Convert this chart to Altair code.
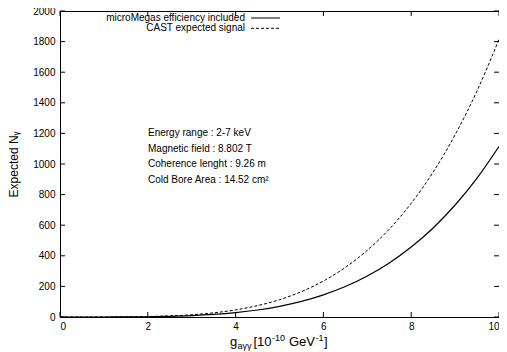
import altair as alt
import pandas as pd

g_vals = [0, 0.5, 1, 1.5, 2, 2.5, 3, 3.5, 4, 4.5, 5, 5.5, 6, 6.5, 7, 7.5, 8, 8.5, 9, 9.5, 10]
mm_vals = [0, 0.01, 0.11, 0.56, 1.8, 4.4, 9.0, 16.7, 28.5, 45.7, 69.7, 102, 145, 199, 268, 353, 457, 582, 732, 908, 1115]
cast_vals = [0, 0.01, 0.18, 0.92, 2.9, 7.1, 14.7, 27.2, 46.5, 74.4, 113, 166, 235, 324, 436, 574, 743, 947, 1191, 1478, 1815]

x_ticks = [0, 2, 4, 6, 8, 10]
y_ticks = [0, 200, 400, 600, 800, 1000, 1200, 1400, 1600, 1800, 2000]

legend_labels = ["microMegas efficiency included", "CAST expected signal"]
notes = ["Energy range : 2-7 keV", "Magnetic field : 8.802 T",
         "Coherence lenght : 9.26 m", "Cold Bore Area : 14.52 cm²"]
# x-axis title pieces: (text, role) role: main / sub / sup
xtitle_parts = [("g", "main"), ("aγγ", "sub"), ("[10", "main"), ("-10", "sup"),
                ("GeV", "main"), ("-1", "sup"), ("]", "main")]
xtitle_x = [170, 177.5, 193.5, 212, 229, 255.5, 264]

W, H = 439, 306
FONT = "Liberation Sans"

df = pd.DataFrame({"g": g_vals * 2,
                   "n": mm_vals + cast_vals,
                   "s": [legend_labels[0]] * len(g_vals) + [legend_labels[1]] * len(g_vals)})

xs = alt.Scale(domain=[0, 10], nice=False)
ys = alt.Scale(domain=[0, 2000], nice=False)

axX = alt.Axis(values=x_ticks, title="",
               grid=False, ticks=False, domain=False, labelFont=FONT, labelFontSize=10,
               labelColor="black", labelPadding=4, labelOverlap=False)
axY = alt.Axis(values=y_ticks, format="d", title="Expected Nᵧ",
               grid=False, ticks=False, domain=False, labelFont=FONT, labelFontSize=10,
               labelColor="black", labelPadding=5, labelOverlap=False, titleFont=FONT,
               titleFontSize=12, titleFontWeight="normal", titleColor="black", titlePadding=12)

base = alt.Chart(df)
solid = base.transform_filter(alt.datum.s == legend_labels[0]).mark_line(
    color="black", strokeWidth=1.2, interpolate="monotone").encode(
    x=alt.X("g:Q", scale=xs, axis=axX), y=alt.Y("n:Q", scale=ys, axis=axY))
dashed = base.transform_filter(alt.datum.s == legend_labels[1]).mark_line(
    color="black", strokeWidth=1, strokeDash=[3, 2], interpolate="monotone").encode(
    x=alt.X("g:Q", scale=xs, axis=axX), y=alt.Y("n:Q", scale=ys, axis=axY))

xt = pd.DataFrame({"g": x_ticks})
yt = pd.DataFrame({"n": y_ticks})
tick_style = dict(color="black", strokeWidth=1)
xb = alt.Chart(xt).mark_rule(**tick_style).encode(
    x=alt.X("g:Q", scale=xs, axis=axX), y=alt.value(H), y2=alt.value(H - 5))
xtop = alt.Chart(xt).mark_rule(**tick_style).encode(
    x=alt.X("g:Q", scale=xs, axis=axX), y=alt.value(0), y2=alt.value(5))
yl = alt.Chart(yt).mark_rule(**tick_style).encode(
    y=alt.Y("n:Q", scale=ys, axis=axY), x=alt.value(0), x2=alt.value(5))
yr = alt.Chart(yt).mark_rule(**tick_style).encode(
    y=alt.Y("n:Q", scale=ys, axis=axY), x=alt.value(W), x2=alt.value(W - 5))

layers = [solid, dashed, xb, xtop, yl, yr]

leg_y = [7, 17.3]
for i, lab in enumerate(legend_labels):
    ldf = pd.DataFrame({"label": [lab]})
    layers.append(alt.Chart(ldf).mark_text(align="right", baseline="middle", font=FONT,
                                           fontSize=10, color="black").encode(
        text="label:N", x=alt.value(185), y=alt.value(leg_y[i])))
    dash = [1, 0] if i == 0 else [3, 2]
    layers.append(alt.Chart(ldf).mark_rule(color="black", strokeWidth=1.2 if i == 0 else 1,
                                           strokeDash=dash).encode(
        x=alt.value(191), x2=alt.value(220), y=alt.value(leg_y[i])))

note_y = [122, 137.5, 153, 168.5]
for i, t in enumerate(notes):
    ndf = pd.DataFrame({"t": [t]})
    layers.append(alt.Chart(ndf).mark_text(align="left", baseline="middle", font=FONT,
                                           fontSize=10, color="black").encode(
        text="t:N", x=alt.value(88), y=alt.value(note_y[i])))

role_style = {"main": (13, 335), "sub": (9, 337.5), "sup": (9, 330)}
for (t, role), px in zip(xtitle_parts, xtitle_x):
    fs, by = role_style[role]
    tdf = pd.DataFrame({"t": [t]})
    layers.append(alt.Chart(tdf).mark_text(align="left", baseline="alphabetic", font=FONT,
                                           fontSize=fs, color="black").encode(
        text="t:N", x=alt.value(px), y=alt.value(by)))

chart = alt.layer(*layers).properties(
    width=W, height=H,
    autosize=alt.AutoSizeParams(type="none"),
    padding={"left": 52, "top": 3, "right": 0, "bottom": 35},
    background="white",
).configure_view(stroke="black", strokeWidth=1)

chart.save("out.html", embed_options={"renderer": "svg", "actions": False})
